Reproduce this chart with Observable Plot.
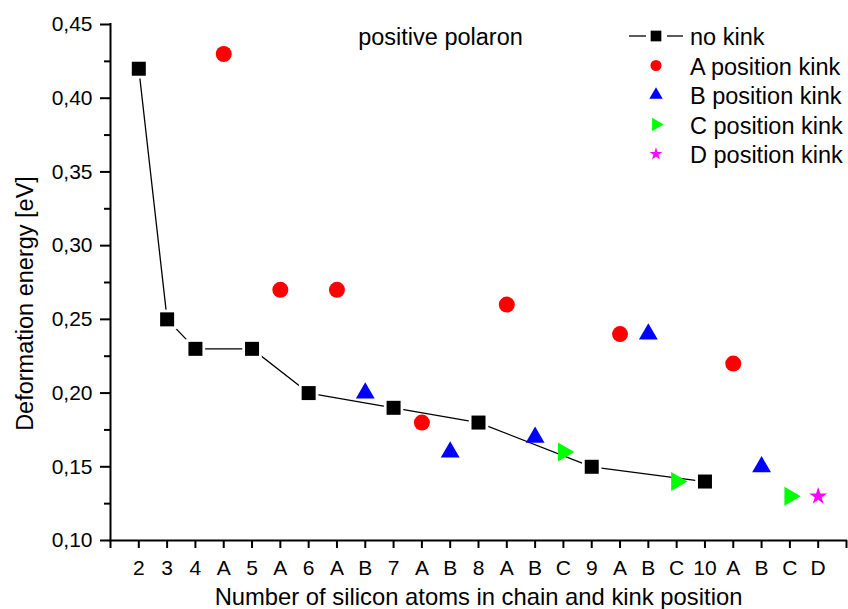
<!DOCTYPE html>
<html>
<head>
<meta charset="utf-8">
<script src="https://cdn.jsdelivr.net/npm/d3@7"></script>
<script src="https://cdn.jsdelivr.net/npm/@observablehq/plot@0.6"></script>
<style>
  html, body { margin: 0; padding: 0; background: #fff; }
  #chart { position: relative; width: 848px; height: 609px; }
</style>
</head>
<body>
<div id="chart"></div>
<script>
// Category labels along the x axis: chain length, then kink positions for that chain
const positionLabels = ["2","3","4","A","5","A","6","A","B","7","A","B","8","A","B","C","9","A","B","C","10","A","B","C","D"];

// Deformation energy (eV) of the positive polaron, by category index
const noKinkAt = [0, 1, 2, 4, 6, 9, 12, 16, 20];
const noKinkEnergy = [0.42, 0.25, 0.23, 0.23, 0.20, 0.19, 0.18, 0.15, 0.14];

const kinkAAt = [3, 5, 7, 10, 13, 17, 21];
const kinkAEnergy = [0.43, 0.27, 0.27, 0.18, 0.26, 0.24, 0.22];

const kinkBAt = [8, 11, 14, 18, 22];
const kinkBEnergy = [0.20, 0.16, 0.17, 0.24, 0.15];

const kinkCAt = [15, 19, 23];
const kinkCEnergy = [0.16, 0.14, 0.13];

const kinkDAt = [24];
const kinkDEnergy = [0.13];

const yTicks = [0.10, 0.15, 0.20, 0.25, 0.30, 0.35, 0.40, 0.45];
const yMinorTicks = [0.125, 0.175, 0.225, 0.275, 0.325, 0.375, 0.425];

const legendLabels = ["no kink", "A position kink", "B position kink", "C position kink", "D position kink"];
const legendColors = ["#000000", "#ff0000", "#0000ff", "#00ff00", "#ff00ff"];

const toRows = (at, energy) => at.map((i, k) => ({i, e: energy[k]}));
const noKink = toRows(noKinkAt, noKinkEnergy);
const kinkA = toRows(kinkAAt, kinkAEnergy);
const kinkB = toRows(kinkBAt, kinkBEnergy);
const kinkC = toRows(kinkCAt, kinkCEnergy);
const kinkD = toRows(kinkDAt, kinkDEnergy);

// Right-pointing triangle with the same area convention as d3.symbolTriangle
const sqrt3 = Math.sqrt(3);
const triangleRight = {
  draw(context, size) {
    const y = Math.sqrt(size / (sqrt3 * 3));
    context.moveTo(2 * y, 0);
    context.lineTo(-y, -sqrt3 * y);
    context.lineTo(-y, sqrt3 * y);
    context.closePath();
  }
};

const commaFormat = d => d.toFixed(2).replace(".", ",");
const font = "'Liberation Sans', Arial, Helvetica, sans-serif";

const chart = Plot.plot({
  width: 848,
  height: 609,
  marginLeft: 110,
  marginRight: 2,
  marginTop: 24,
  marginBottom: 69,
  style: {fontFamily: font, color: "black", background: "white", overflow: "visible"},
  x: {type: "linear", domain: [-1, 25]},
  y: {domain: [0.10, 0.45]},
  marks: [
    // axes
    Plot.axisY({ticks: yTicks, tickSize: 10, tickPadding: 8, tickFormat: commaFormat, fontSize: 21, strokeWidth: 2, label: null}),
    Plot.axisY({ticks: yMinorTicks, tickSize: 6, tickFormat: () => "", strokeWidth: 2, label: null}),
    Plot.axisX({ticks: d3.range(-1, 26), tickSize: 8, tickPadding: 12, tickFormat: i => positionLabels[i] ?? "", fontSize: 21, strokeWidth: 2, label: null}),
    Plot.ruleX([-1], {strokeWidth: 2, strokeLinecap: "square"}),
    Plot.ruleY([0.10], {strokeWidth: 2, strokeLinecap: "square"}),

    // no-kink series: connecting line, cut back around each square
    Plot.line(noKink, {x: "i", y: "e", stroke: "black", strokeWidth: 1.3}),
    Plot.dot(noKink, {x: "i", y: "e", symbol: "square", r: 11, fill: "white"}),

    // kinked chains
    Plot.dot(kinkA, {x: "i", y: "e", symbol: "circle", r: 8, fill: legendColors[1]}),
    Plot.dot(kinkB, {x: "i", y: "e", symbol: "triangle", r: 7, fill: legendColors[2]}),
    Plot.dot(kinkC, {x: "i", y: "e", symbol: triangleRight, r: 7, fill: legendColors[3]}),
    Plot.dot(kinkD, {x: "i", y: "e", symbol: "star", r: 5.6, fill: legendColors[4]}),
    Plot.dot(noKink, {x: "i", y: "e", symbol: "square", r: 7.9, fill: legendColors[0]}),

    // titles
    Plot.text(["positive polaron"], {text: d => d, frameAnchor: "top", dx: -38, dy: 20, lineAnchor: "bottom", textAnchor: "middle", fontSize: 23.5, fill: "black"}),
    Plot.text(["Number of silicon atoms in chain and kink position"], {text: d => d, frameAnchor: "bottom", dy: 64, lineAnchor: "bottom", textAnchor: "middle", fontSize: 23.8, fill: "black"}),
    Plot.text(["Deformation energy [eV]"], {text: d => d, frameAnchor: "left", rotate: -90, dx: -78, dy: 21, lineAnchor: "bottom", textAnchor: "middle", fontSize: 23.5, fill: "black"})
  ]
});

document.getElementById("chart").appendChild(chart);

// Legend in the upper-right corner
const legendSymbols = [
  {type: d3.symbolSquare, size: 114},
  {type: d3.symbolCircle, size: 95},
  {type: d3.symbolTriangle, size: 78},
  {type: triangleRight, size: 78},
  {type: d3.symbolStar, size: 52}
];
const svg = d3.select(chart);
const legend = svg.append("g").attr("font-family", font).attr("font-size", 23.5).attr("text-anchor", "start");
const symX = 656, textX = 690, rowY0 = 36, rowStep = 29.5;
legend.append("line").attr("x1", 629).attr("x2", 646).attr("y1", rowY0).attr("y2", rowY0).attr("stroke", "black").attr("stroke-width", 1.3);
legend.append("line").attr("x1", 667).attr("x2", 683).attr("y1", rowY0).attr("y2", rowY0).attr("stroke", "black").attr("stroke-width", 1.3);
legendLabels.forEach((label, k) => {
  const cy = rowY0 + k * rowStep;
  legend.append("path")
    .attr("transform", `translate(${symX},${cy})`)
    .attr("d", d3.symbol(legendSymbols[k].type, legendSymbols[k].size)())
    .attr("fill", legendColors[k]);
  legend.append("text")
    .attr("x", textX)
    .attr("y", cy + 9)
    .attr("text-anchor", "start")
    .attr("fill", "black")
    .text(label);
});
</script>
</body>
</html>
